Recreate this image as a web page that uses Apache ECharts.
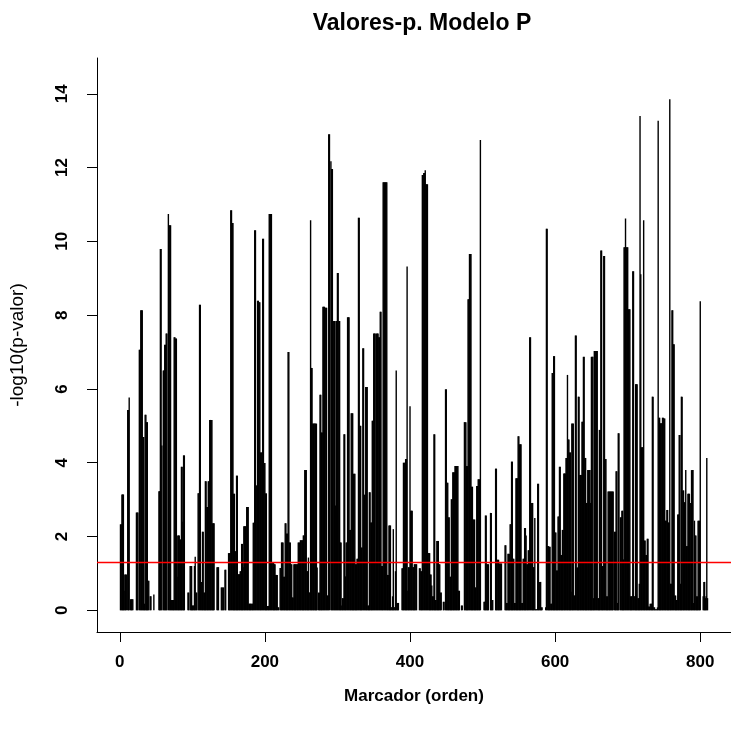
<!DOCTYPE html>
<html>
<head>
<meta charset="utf-8">
<script src="https://cdn.jsdelivr.net/npm/echarts@6/dist/echarts.min.js"></script>
<style>
html,body{margin:0;padding:0;background:#fff;}
#chart{width:731px;height:729px;}
</style>
</head>
<body>
<div id="chart"></div>
<script>
// -log10(p-valor) per marker (orden 1..810)
const pValues = [
2.33,2.33,3.14,3.14,3.14,0.53,0.97,0.97,0.97,0,
5.43,5.43,5.77,0,0.3,0.3,0.3,0.3,0,0,
0,0,2.65,2.65,2.65,0,7.06,7.06,8.13,8.13,
8.13,4.7,4.7,0.18,5.3,5.3,5.1,5.1,0.8,0.8,
0,0.38,0.38,0,0,0,0.43,0,0,0,
0,0,0,3.23,3.23,9.79,9.79,4.47,0,6.5,
6.5,7.2,7.2,7.5,7.5,0,10.74,10.44,10.44,10.44,
0.28,0.28,0.28,0.28,7.4,7.4,7.37,7.37,0.91,2.03,
2.03,2.03,1.92,1.92,3.89,3.89,2.4,4.2,4.2,0,
0,0,0,0.48,0.48,0,1.2,1.2,1.2,0.13,
0.13,0.13,1.2,1.45,0.48,0.48,0,3.17,3.17,8.28,
8.28,0.77,0.77,2.13,2.13,0.48,0.48,3.5,3.5,2.8,
2.8,3.5,3.5,5.16,5.16,5.16,5.16,2.36,2.36,2.36,
0,0,0,1.17,1.17,1.17,0,0,0,0.62,
0.62,0.62,0.62,0,1.1,1.1,0,0,0,1.55,
1.55,1.55,10.84,10.84,10.5,10.5,3.16,3.16,1.6,1.6,
3.65,3.65,0.98,0.98,0.98,1.06,1.06,1.8,1.8,1.17,
2.28,2.28,2.28,2.28,2.8,2.8,2.8,0.18,0.18,0.18,
0.18,0.18,0.18,2.37,2.37,10.3,10.3,3.38,3.38,8.39,
8.39,8.35,8.35,4.28,4.28,4.28,10.07,10.07,3.99,3.99,
3.17,3.17,0.12,0.12,0.12,10.74,10.74,10.74,10.74,1.3,
1.3,1.3,1.25,1.25,0.96,0.96,0.96,0.08,0.08,0,
1.15,1.15,1.84,1.84,1.84,0.91,0.91,2.36,2.36,2.08,
2.08,7.0,7.0,1.84,1.84,1.25,1.25,0.35,0.35,1.25,
1.25,1.25,1.25,1.25,1.25,1.84,1.84,1.84,1.9,1.9,
1.9,1.9,2.03,2.03,3.8,3.8,3.8,1.06,1.06,1.43,
0.48,0.48,10.57,6.57,6.57,5.06,5.06,5.06,5.06,5.06,
5.06,1.16,0,0.48,0.48,5.84,5.84,4.82,4.82,8.23,
8.23,8.23,8.2,8.2,8.2,0.4,0.4,12.9,12.9,0,
12.17,11.96,11.96,7.84,7.84,7.84,2.84,7.84,7.84,9.14,
9.14,7.84,7.84,1.84,1.84,0.13,0.33,0.33,4.77,4.77,
0.92,1.84,1.84,7.94,7.94,7.94,2.18,2.18,5.34,5.34,
5.34,3.7,3.7,3.7,1.25,1.25,1.4,1.4,10.64,10.64,
5.0,5.0,1.7,1.7,7.1,7.1,3.13,3.13,6.05,6.05,
6.05,0.13,0.13,3.2,3.2,2.38,2.38,5.14,5.14,7.5,
7.5,7.5,1.3,7.5,7.5,7.5,7.4,7.4,8.09,8.09,
1.2,1.2,11.6,11.6,11.6,11.6,11.6,11.6,0.96,0.96,
2.3,2.3,2.3,0.08,0.08,0.38,2.2,0.08,0.08,1.06,
6.5,0.2,0.2,0.2,0,0,0,0,1.14,1.14,
4.0,4.0,4.0,4.1,4.1,9.32,0.53,1.17,1.17,5.53,
2.7,2.7,2.7,1.17,1.17,1.25,1.25,1.25,1.25,0,
0,0,1.14,1.14,1.06,1.06,11.8,11.8,11.85,11.85,
11.93,11.55,11.55,11.55,1.55,1.55,1.55,0.97,0.97,0.67,
0.38,0.38,4.77,4.77,0.28,0.28,1.88,1.88,1.88,1.25,
1.25,0.48,0.48,0,0,0.23,0.23,0,5.99,5.99,
3.46,3.46,2.52,2.52,0.91,0.91,3.01,3.01,3.74,3.74,
3.74,3.91,3.91,3.91,3.91,3.91,0.53,0.53,0,0,
0.13,0.13,0,0,5.1,5.1,5.1,3.91,3.91,8.43,
8.43,9.66,9.66,9.66,3.35,3.35,2.46,2.46,2.46,0.62,
0.62,3.37,3.37,3.55,3.55,3.55,12.75,0,0,0,
0,0.23,0.23,2.57,2.57,1.25,1.25,1.25,0,0,
2.64,2.64,0.28,0.28,0,0,0,3.84,3.84,1.37,
1.37,1.37,1.27,1.27,1.27,1.27,0,0,0,0,
1.76,1.76,0.2,0.2,1.53,1.53,1.53,2.33,2.33,4.03,
4.03,1.4,1.4,0.2,0.2,3.58,3.58,3.58,4.72,4.72,
4.5,4.5,4.5,0.2,0.2,1.4,1.4,2.23,2.23,2.03,
1.25,1.25,1.63,1.63,7.4,7.4,2.91,2.91,2.91,1.17,
1.17,2.5,0.03,0.03,0.03,3.43,3.43,0.77,0.77,0.77,
0.08,0.08,0,0,0,0,0.08,10.34,10.34,1.74,
1.74,1.72,1.72,0.18,0.18,6.43,6.43,6.89,6.89,2.11,
2.11,1.08,1.08,2.54,2.54,3.89,3.89,1.5,1.5,2.18,
2.18,3.71,3.71,3.71,4.13,4.13,6.38,4.63,4.63,4.28,
4.28,0.5,5.06,5.06,5.06,0.4,0.4,7.45,7.45,1.16,
1.16,5.79,5.79,3.67,3.67,3.67,5.11,5.11,6.87,6.87,
4.13,4.13,2.91,2.91,3.8,3.8,3.8,3.8,2.91,6.87,
6.87,6.87,0.33,7.03,7.03,7.03,7.03,7.03,0.33,0.33,
4.89,4.89,9.75,9.75,1.2,1.2,9.6,9.6,4.1,4.1,
0.38,0.38,3.22,3.22,3.22,3.22,3.22,3.22,3.22,3.22,
0,2.13,2.13,3.77,3.77,0.2,4.8,4.8,0,2.52,
2.52,2.7,2.7,1.38,9.84,9.84,10.62,9.84,9.84,9.84,
8.16,8.16,8.16,0.38,0.38,0.38,9.19,9.19,0.38,0.38,
6.13,6.13,6.13,0.33,0.33,0.72,13.4,9.11,4.42,4.42,
4.42,10.57,1.89,1.89,1.5,1.5,1.94,1.94,0.1,0.1,
0.18,0.18,0.18,5.79,5.79,0.08,0.08,0.03,0.03,0.03,
0.08,13.27,5.22,5.22,5.07,5.07,5.07,5.22,5.22,5.2,
5.2,2.43,2.43,2.72,2.72,2.38,2.38,13.85,0.72,0.72,
8.13,8.13,7.21,7.21,0.4,0.4,0.28,0.28,2.6,2.6,
4.75,4.75,0.72,5.79,5.79,3.25,3.25,2.93,2.93,3.8,
1.74,1.74,3.16,3.16,3.16,2.91,2.91,3.8,3.8,3.8,
0.2,2.43,2.03,2.03,0.38,0.38,2.43,2.43,2.43,8.38,
0,0,0,0.38,0.77,0.77,0.33,0.38,4.13,0.33
];
const markerIndex = pValues.map((v, i) => i + 1);
const xTicks = [0, 200, 400, 600, 800];
const yTicks = [0, 2, 4, 6, 8, 10, 12, 14];
const threshold = -Math.log10(0.05);

const chart = echarts.init(document.getElementById('chart'), null, {renderer: 'canvas'});
const data = markerIndex.map((m, i) => [m, pValues[i]]);

const option = {
  animation: false,
  backgroundColor: '#ffffff',
  title: {
    text: 'Valores-p. Modelo P',
    left: 417,
    top: 7,
    textAlign: 'center',
    textStyle: {fontFamily: 'Liberation Sans, Arial', fontWeight: 'bold', fontSize: 23, color: '#000'}
  },
  grid: {left: 96, top: 58, width: 642, height: 574, containLabel: false},
  xAxis: {
    type: 'value',
    min: -31.36,
    max: 842.36,
    name: 'Marcador (orden)',
    nameLocation: 'middle',
    nameGap: 56,
    nameTextStyle: {fontFamily: 'Liberation Sans, Arial', fontWeight: 'bold', fontSize: 17, color: '#000'},
    axisLine: {show: true, onZero: false, lineStyle: {color: '#000', width: 1}},
    axisTick: {show: true, length: 10, customValues: xTicks, lineStyle: {color: '#000'}},
    axisLabel: {show: true, customValues: xTicks, margin: 22, fontFamily: 'Liberation Sans, Arial', fontWeight: 'bold', fontSize: 17, color: '#000'},
    splitLine: {show: false}
  },
  yAxis: {
    type: 'value',
    min: -0.588,
    max: 14.97,
    name: '-log10(p-valor)',
    nameLocation: 'middle',
    nameGap: 70,
    nameRotate: 90,
    nameTextStyle: {fontFamily: 'Liberation Sans, Arial', fontSize: 19, color: '#000'},
    axisLine: {show: true, onZero: false, lineStyle: {color: '#000', width: 1}},
    axisTick: {show: true, length: 10, customValues: yTicks, lineStyle: {color: '#000'}},
    axisLabel: {show: true, customValues: yTicks, rotate: 90, margin: 26, fontFamily: 'Liberation Sans, Arial', fontWeight: 'bold', fontSize: 17, color: '#000'},
    splitLine: {show: false}
  },
  series: [{
    type: 'custom',
    clip: true,
    data: data,
    encode: {x: 0, y: 1},
    renderItem: function (params, api) {
      const x = api.value(0), y = api.value(1);
      const p0 = api.coord([x, 0]);
      const p1 = api.coord([x, y]);
      return {
        type: 'line',
        shape: {x1: p0[0], y1: p0[1], x2: p1[0], y2: p1[1]},
        style: {stroke: '#000', lineWidth: 1.4}
      };
    },
    markLine: {
      silent: true,
      symbol: 'none',
      label: {show: false},
      lineStyle: {color: '#ff0000', width: 1.3, type: 'solid'},
      data: [{yAxis: threshold}]
    }
  }]
};
chart.setOption(option);
</script>
</body>
</html>
